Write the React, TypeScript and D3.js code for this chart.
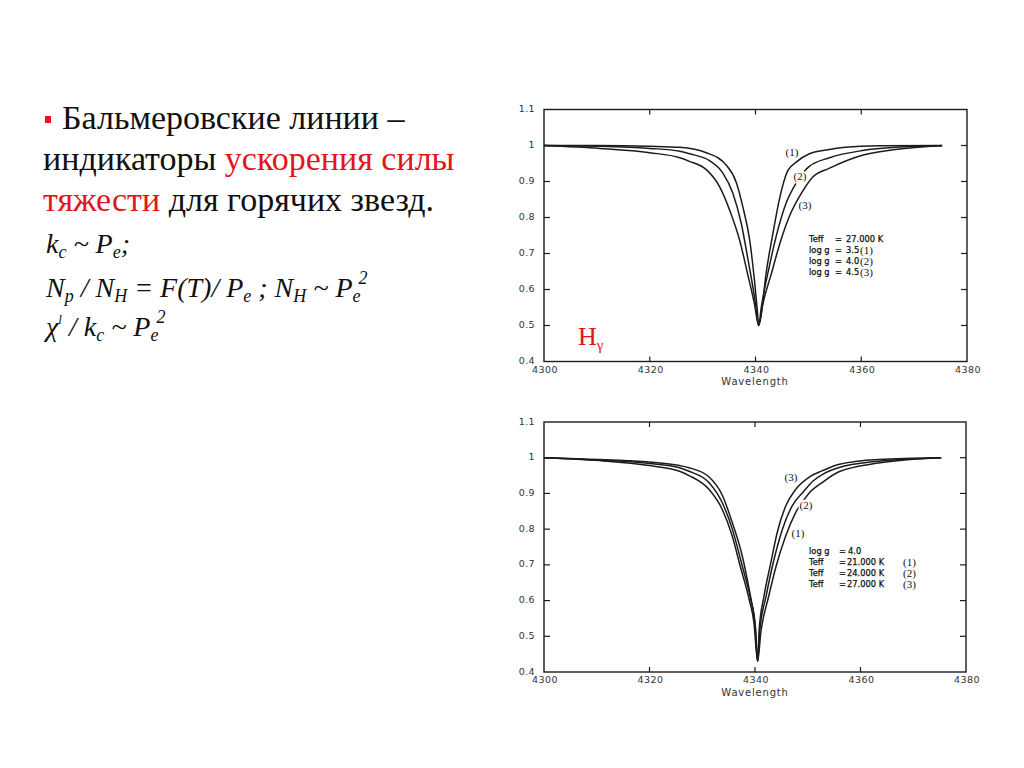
import React from "react";
import * as d3 from "d3";

// ---------- DATA ----------
const xTicks = [4300, 4320, 4340, 4360, 4380];
const xTickLabels = ["4300", "4320", "4340", "4360", "4380"];
const yTicks = [0.4, 0.5, 0.6, 0.7, 0.8, 0.9, 1.0, 1.1];
const yTickLabels = ["0.4", "0.5", "0.6", "0.7", "0.8", "0.9", "1", "1.1"];
const xLabel = "Wavelength";

// Top chart: Teff = 27000 K, varying log g
const topLogG35: [number, number][] = [
  [4300, 1.0], [4310, 1.0], [4320, 0.998], [4325.7, 0.995], [4330.7, 0.98],
  [4334.5, 0.945], [4336.4, 0.896], [4337.6, 0.83], [4338.9, 0.737],
  [4339.8, 0.626], [4340.4, 0.533], [4340.6, 0.5], [4341.1, 0.533],
  [4342.0, 0.644], [4343.3, 0.756], [4344.5, 0.849], [4346.1, 0.93],
  [4347.7, 0.954], [4350.2, 0.977], [4354, 0.989], [4357, 0.995],
  [4363.4, 0.999], [4375.3, 1.0],
];
const topLogG40: [number, number][] = [
  [4300, 1.0], [4310.6, 0.998], [4320, 0.992], [4325.7, 0.984], [4327.5, 0.977],
  [4331.3, 0.958], [4333.8, 0.924], [4335.7, 0.868], [4337.3, 0.784],
  [4338.5, 0.69], [4339.8, 0.58], [4340.6, 0.5], [4341.1, 0.551],
  [4342.6, 0.663], [4343.9, 0.747], [4345.8, 0.84], [4347.7, 0.896],
  [4350.0, 0.94], [4354, 0.966], [4360.2, 0.986], [4366.5, 0.995], [4375.3, 0.999],
];
const topLogG45: [number, number][] = [
  [4300, 1.0], [4310.6, 0.992], [4320, 0.98], [4325.7, 0.966], [4327.5, 0.956],
  [4330.7, 0.933], [4333.2, 0.886], [4335.1, 0.821], [4337.0, 0.737],
  [4338.5, 0.644], [4339.8, 0.56], [4340.6, 0.5], [4341.4, 0.56],
  [4343.0, 0.644], [4344.8, 0.737], [4346.4, 0.803], [4348.3, 0.858],
  [4350.8, 0.912], [4354, 0.937], [4360.2, 0.973], [4366.5, 0.989], [4375.3, 1.0],
];

// Bottom chart: log g = 4.0, varying Teff
const botTeff21: [number, number][] = [
  [4300, 1.0], [4310.6, 0.992], [4320, 0.978], [4325.7, 0.962], [4327.5, 0.95],
  [4331.3, 0.911], [4333.8, 0.855], [4335.7, 0.78], [4337.2, 0.696],
  [4338.9, 0.603], [4339.8, 0.538], [4340.5, 0.43], [4341.1, 0.51],
  [4342.6, 0.612], [4344.0, 0.696], [4345.8, 0.78], [4347.7, 0.846],
  [4350.2, 0.9], [4352.7, 0.93], [4355.8, 0.96], [4363.4, 0.985], [4375.3, 1.0],
];
const botTeff24: [number, number][] = [
  [4300, 1.0], [4310.6, 0.993], [4320, 0.984], [4325.7, 0.972], [4327.5, 0.962],
  [4331.3, 0.93], [4333.8, 0.874], [4335.7, 0.8], [4337.6, 0.696],
  [4339.2, 0.603], [4340.0, 0.538], [4340.5, 0.43], [4340.9, 0.514],
  [4342.1, 0.612], [4343.6, 0.715], [4345.2, 0.8], [4347.0, 0.864],
  [4349.2, 0.905], [4351, 0.935], [4353, 0.955], [4355.8, 0.972],
  [4363.4, 0.99], [4375.3, 1.0],
];
const botTeff27: [number, number][] = [
  [4300, 1.0], [4310.6, 0.995], [4320, 0.988], [4325.7, 0.978], [4327.5, 0.972],
  [4331.3, 0.946], [4333.8, 0.895], [4335.7, 0.818], [4337.6, 0.724],
  [4338.9, 0.631], [4339.8, 0.556], [4340.1, 0.52], [4340.5, 0.43],
  [4340.8, 0.52], [4341.7, 0.612], [4343.0, 0.706], [4344.2, 0.79],
  [4345.8, 0.864], [4347.7, 0.911], [4350.5, 0.948], [4352.7, 0.963],
  [4355.8, 0.981], [4363.4, 0.995], [4375.3, 1.0],
];

const topCurveLabels = ["(1)", "(2)", "(3)"];
const botCurveLabels = ["(1)", "(2)", "(3)"];

type Pt = [number, number];

interface ChartProps {
  x0: number; x1: number; y0: number; y1: number;
  series: Pt[][];
  children?: React.ReactNode;
}

const ink = "#1c1c1c";

function Chart({ x0, x1, y0, y1, series, children }: ChartProps) {
  const x = d3.scaleLinear().domain([4300, 4380]).range([x0, x1]);
  const y = d3.scaleLinear().domain([0.4, 1.1]).range([y1, y0]);
  const line = d3
    .line<Pt>()
    .x((d) => x(d[0]))
    .y((d) => y(d[1]))
    .curve(d3.curveMonotoneX);
  const axisFont = { fontFamily: "DejaVu Sans", fontSize: 9.5, fill: "#333", letterSpacing: 0.4 };
  return (
    <g>
      <rect x={x0} y={y0} width={x1 - x0} height={y1 - y0} fill="none" stroke={ink} strokeWidth={1.4} />
      {yTicks.map((t, i) => (
        <g key={"y" + i}>
          {i > 0 && i < yTicks.length - 1 && (
            <>
              <line x1={x0} x2={x0 + 6} y1={y(t)} y2={y(t)} stroke={ink} strokeWidth={1.2} />
              <line x1={x1 - 6} x2={x1} y1={y(t)} y2={y(t)} stroke={ink} strokeWidth={1.2} />
            </>
          )}
          <text x={535} y={y(t) - 1} textAnchor="end" dominantBaseline="central" {...axisFont}>
            {yTickLabels[i]}
          </text>
        </g>
      ))}
      {xTicks.map((t, i) => (
        <g key={"x" + i}>
          {i > 0 && i < xTicks.length - 1 && (
            <>
              <line x1={x(t)} x2={x(t)} y1={y0} y2={y0 + 5} stroke={ink} strokeWidth={1.2} />
              <line x1={x(t)} x2={x(t)} y1={y1 - 5} y2={y1} stroke={ink} strokeWidth={1.2} />
            </>
          )}
          <text x={x(t) + 1} y={y1 + 7.5} textAnchor="middle" dominantBaseline="central" {...axisFont}>
            {xTickLabels[i]}
          </text>
        </g>
      ))}
      <text x={755} y={y1 + 20} textAnchor="middle" dominantBaseline="central" {...axisFont} fontSize={10} letterSpacing={0.8}>
        {xLabel}
      </text>
      {series.map((s, i) => (
        <path key={"s" + i} d={line(s) || ""} fill="none" stroke={ink} strokeWidth={1.5} strokeLinejoin="round" />
      ))}
      {children}
    </g>
  );
}

const legendFont = { fontFamily: "DejaVu Sans", fontSize: 8.3, fill: "#111", stroke: "#111", strokeWidth: 0.25 };
const numFont = { fontFamily: "Liberation Serif", fontSize: 11, fill: "#111" };
const haloFont = { ...numFont, stroke: "#fff", strokeWidth: 3, paintOrder: "stroke" };
const red = "#e3141b";

export default function App() {
  return (
    <svg
      width={1024}
      height={768}
      style={{ position: "absolute", left: 0, top: 0, background: "#fff" }}
    >
      <rect x={0} y={0} width={1024} height={768} fill="#fff" />
      {/* Left text block */}
      <rect x={45} y={116} width={6} height={7} fill={red} />
      <g fontFamily="Liberation Serif" fontSize={34} fill="#111">
        <text x={62} y={129}>Бальмеровские линии –</text>
        <text x={43} y={170}>
          индикаторы <tspan fill={red}>ускорения силы</tspan>
        </text>
        <text x={43} y={211}>
          <tspan fill={red}>тяжести</tspan> для горячих звезд.
        </text>
      </g>
      <g fontFamily="Liberation Serif" fontStyle="italic" fontSize={28} fill="#111">
        <text x={46} y={253}>
          k<tspan fontSize={18} dy={5}>c</tspan>
          <tspan dy={-5}> ~ P</tspan>
          <tspan fontSize={18} dy={5}>e</tspan>
          <tspan dy={-5}>;</tspan>
        </text>
        <text x={46} y={297}>
          N<tspan fontSize={18} dy={5}>p</tspan>
          <tspan dy={-5}> / N</tspan>
          <tspan fontSize={18} dy={5}>H</tspan>
          <tspan dy={-5}> = F(T)/ P</tspan>
          <tspan fontSize={18} dy={5}>e</tspan>
          <tspan dy={-5}> ; N</tspan>
          <tspan fontSize={18} dy={5}>H</tspan>
          <tspan dy={-5}> ~ P</tspan>
          <tspan fontSize={18} dy={5}>e</tspan>
          <tspan fontSize={18} dx={-2} dy={-18}>2</tspan>
        </text>
        <text x={46} y={336}>
          χ<tspan fontSize={13} dy={-12}>l</tspan>
          <tspan dy={12}> / k</tspan>
          <tspan fontSize={18} dy={5}>c</tspan>
          <tspan dy={-5}> ~ P</tspan>
          <tspan fontSize={18} dy={5}>e</tspan>
          <tspan fontSize={18} dx={-2} dy={-18}>2</tspan>
        </text>
      </g>

      {/* Top chart */}
      <Chart x0={544} x1={967} y0={109.5} y1={361.5} series={[topLogG35, topLogG40, topLogG45]}>
        <text x={792} y={152} textAnchor="middle" dominantBaseline="central" {...haloFont}>{topCurveLabels[0]}</text>
        <text x={800} y={176} textAnchor="middle" dominantBaseline="central" {...haloFont}>{topCurveLabels[1]}</text>
        <text x={805} y={205} textAnchor="middle" dominantBaseline="central" {...haloFont}>{topCurveLabels[2]}</text>
        <g dominantBaseline="central">
          <text x={809} y={239} {...legendFont}>Teff</text>
          <text x={835} y={239} {...legendFont}>=</text>
          <text x={846} y={239} {...legendFont}>27.000  K</text>
          <text x={809} y={250} {...legendFont}>log  g</text>
          <text x={835} y={250} {...legendFont}>=</text>
          <text x={846} y={250} {...legendFont}>3.5</text>
          <text x={860} y={250} {...numFont}>(1)</text>
          <text x={809} y={261} {...legendFont}>log  g</text>
          <text x={835} y={261} {...legendFont}>=</text>
          <text x={846} y={261} {...legendFont}>4.0</text>
          <text x={860} y={261} {...numFont}>(2)</text>
          <text x={809} y={272} {...legendFont}>log  g</text>
          <text x={835} y={272} {...legendFont}>=</text>
          <text x={846} y={272} {...legendFont}>4.5</text>
          <text x={860} y={272} {...numFont}>(3)</text>
        </g>
        <text x={578} y={345} fontFamily="Liberation Serif" fontSize={26} fill={red}>
          H<tspan fontSize={15} dy={5}>γ</tspan>
        </text>
      </Chart>

      {/* Bottom chart */}
      <Chart x0={544} x1={966} y0={422} y1={672} series={[botTeff21, botTeff24, botTeff27]}>
        <text x={791} y={477} textAnchor="middle" dominantBaseline="central" {...haloFont}>{botCurveLabels[2]}</text>
        <text x={806} y={505} textAnchor="middle" dominantBaseline="central" {...haloFont}>{botCurveLabels[1]}</text>
        <text x={798} y={533} textAnchor="middle" dominantBaseline="central" {...haloFont}>{botCurveLabels[0]}</text>
        <g dominantBaseline="central">
          <text x={809} y={551} {...legendFont}>log  g</text>
          <text x={839} y={551} {...legendFont}>=</text>
          <text x={848} y={551} {...legendFont}>4.0</text>
          <text x={809} y={562} {...legendFont}>Teff</text>
          <text x={839} y={562} {...legendFont}>=</text>
          <text x={847} y={562} {...legendFont}>21.000  K</text>
          <text x={903} y={562} {...numFont}>(1)</text>
          <text x={809} y={573} {...legendFont}>Teff</text>
          <text x={839} y={573} {...legendFont}>=</text>
          <text x={847} y={573} {...legendFont}>24.000  K</text>
          <text x={903} y={573} {...numFont}>(2)</text>
          <text x={809} y={584} {...legendFont}>Teff</text>
          <text x={839} y={584} {...legendFont}>=</text>
          <text x={847} y={584} {...legendFont}>27.000  K</text>
          <text x={903} y={584} {...numFont}>(3)</text>
        </g>
      </Chart>
    </svg>
  );
}
